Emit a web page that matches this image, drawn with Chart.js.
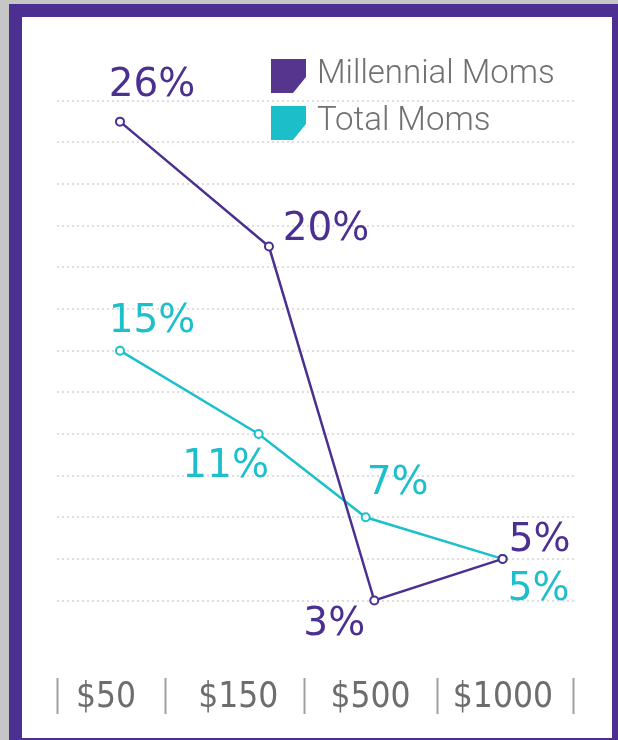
<!DOCTYPE html>
<html>
<head>
<meta charset="utf-8">
<script src="https://cdn.jsdelivr.net/npm/chart.js@4.4.1/dist/chart.umd.min.js"></script>
<style>
  body { margin: 0; background: #c6c6c6; width: 618px; height: 740px; overflow: hidden; }
  #frame { position: absolute; left: 9px; top: 4px; width: 609px; height: 736px; background: #4b3092; }
  #panel { position: absolute; left: 22px; top: 17px; width: 590px; height: 721px; background: #fff; }
  #chart { position: absolute; left: 0; top: 0; }
</style>
</head>
<body>
<div id="frame"></div>
<div id="panel"></div>
<canvas id="chart" width="618" height="740"></canvas>
<script>
// price points along the x axis
const categories = ['$50', '$150', '$500', '$1000'];

// share of moms (%) per series
const millennialValues = [26, 20, 3, 5];
const totalValues = [15, 11, 7, 5];

// where each point sits along the x axis (in category units)
const millennialX = [0.106, 1.232, 2.028, 2.998];
const totalX = [0.106, 1.154, 1.963, 2.998];

// dotted guide lines
const gridValues = [3, 5, 7, 9, 11, 13, 15, 17, 19, 21, 23, 25, 27];

// separators between the price labels
const separators = [-0.37, 0.45, 1.5, 2.5, 3.53];

const PURPLE = '#4b2f91';
const TEAL = '#1dbfcb';

// label offsets from each point (px)
const labelOffsets = {
  0: [[32, -36], [57, -17], [-40, 24], [37, -18]],
  1: [[32, -29], [-33, 33], [32, -33], [36, 31]]
};

const toPoints = (xs, ys) => ys.map((y, i) => ({ x: xs[i], y }));

/**
 * draws the value labels, x labels, separators and the legend
 */
const decorations = {
  id: 'decorations',
  afterDatasetsDraw(chart) {
    const { ctx, scales } = chart;
    const xScale = scales.x;
    ctx.save();

    // value labels
    ctx.font = '39px "DejaVu Sans"';
    ctx.textAlign = 'center';
    ctx.textBaseline = 'middle';
    chart.data.datasets.forEach((ds, di) => {
      const meta = chart.getDatasetMeta(di);
      ctx.fillStyle = ds.borderColor;
      meta.data.forEach((pt, i) => {
        const [dx, dy] = labelOffsets[di][i];
        ctx.fillText(ds.data[i].y + '%', pt.x + dx, pt.y + dy);
      });
    });

    // x labels
    ctx.font = '35px "DejaVu Sans Condensed"';
    ctx.fillStyle = '#6d6d6d';
    ctx.textBaseline = 'alphabetic';
    categories.forEach((c, i) => {
      ctx.fillText(c, xScale.getPixelForValue(i), 707);
    });

    // separators
    ctx.strokeStyle = '#a0a0a0';
    ctx.lineWidth = 2;
    separators.forEach(s => {
      const x = Math.round(xScale.getPixelForValue(s)) + 0.5;
      ctx.beginPath();
      ctx.moveTo(x, 678);
      ctx.lineTo(x, 714);
      ctx.stroke();
    });

    // legend
    chart.data.datasets.forEach((ds, di) => {
      const top = 59 + di * 47;
      ctx.fillStyle = ds.swatch;
      ctx.beginPath();
      ctx.moveTo(271, top);
      ctx.lineTo(306, top);
      ctx.lineTo(306, top + 18);
      ctx.lineTo(293, top + 34);
      ctx.lineTo(271, top + 34);
      ctx.closePath();
      ctx.fill();

      ctx.font = '300 33px Roboto';
      ctx.fillStyle = '#707070';
      ctx.textAlign = 'left';
      ctx.textBaseline = 'middle';
      ctx.fillText(ds.label, 317, top + 16);
    });

    ctx.restore();
  }
};

const chart = new Chart(document.getElementById('chart'), {
  type: 'line',
  data: {
    datasets: [
      {
        label: 'Millennial Moms',
        data: toPoints(millennialX, millennialValues),
        borderColor: PURPLE,
        swatch: '#56358f',
        borderWidth: 2.5,
        pointRadius: 4,
        pointBorderWidth: 2,
        pointBackgroundColor: '#fff',
        pointBorderColor: PURPLE,
        tension: 0,
        clip: false
      },
      {
        label: 'Total Moms',
        data: toPoints(totalX, totalValues),
        borderColor: TEAL,
        swatch: '#1cbfc9',
        borderWidth: 2.5,
        pointRadius: 4,
        pointBorderWidth: 2,
        pointBackgroundColor: '#fff',
        pointBorderColor: TEAL,
        tension: 0,
        clip: false
      }
    ]
  },
  options: {
    responsive: false,
    animation: false,
    layout: { padding: { left: 57, right: 41, top: 80, bottom: 77 } },
    plugins: { legend: { display: false }, tooltip: { enabled: false } },
    scales: {
      x: { type: 'linear', min: -0.37, max: 3.56, display: false },
      y: {
        type: 'linear',
        min: 0,
        max: 28,
        afterBuildTicks: axis => {
          axis.ticks = gridValues.map(v => ({ value: v }));
        },
        ticks: { display: false },
        grid: { color: '#dedede', lineWidth: 2, drawTicks: false },
        border: { display: false, dash: [2, 3] }
      }
    }
  },
  plugins: [decorations]
});
</script>
</body>
</html>
